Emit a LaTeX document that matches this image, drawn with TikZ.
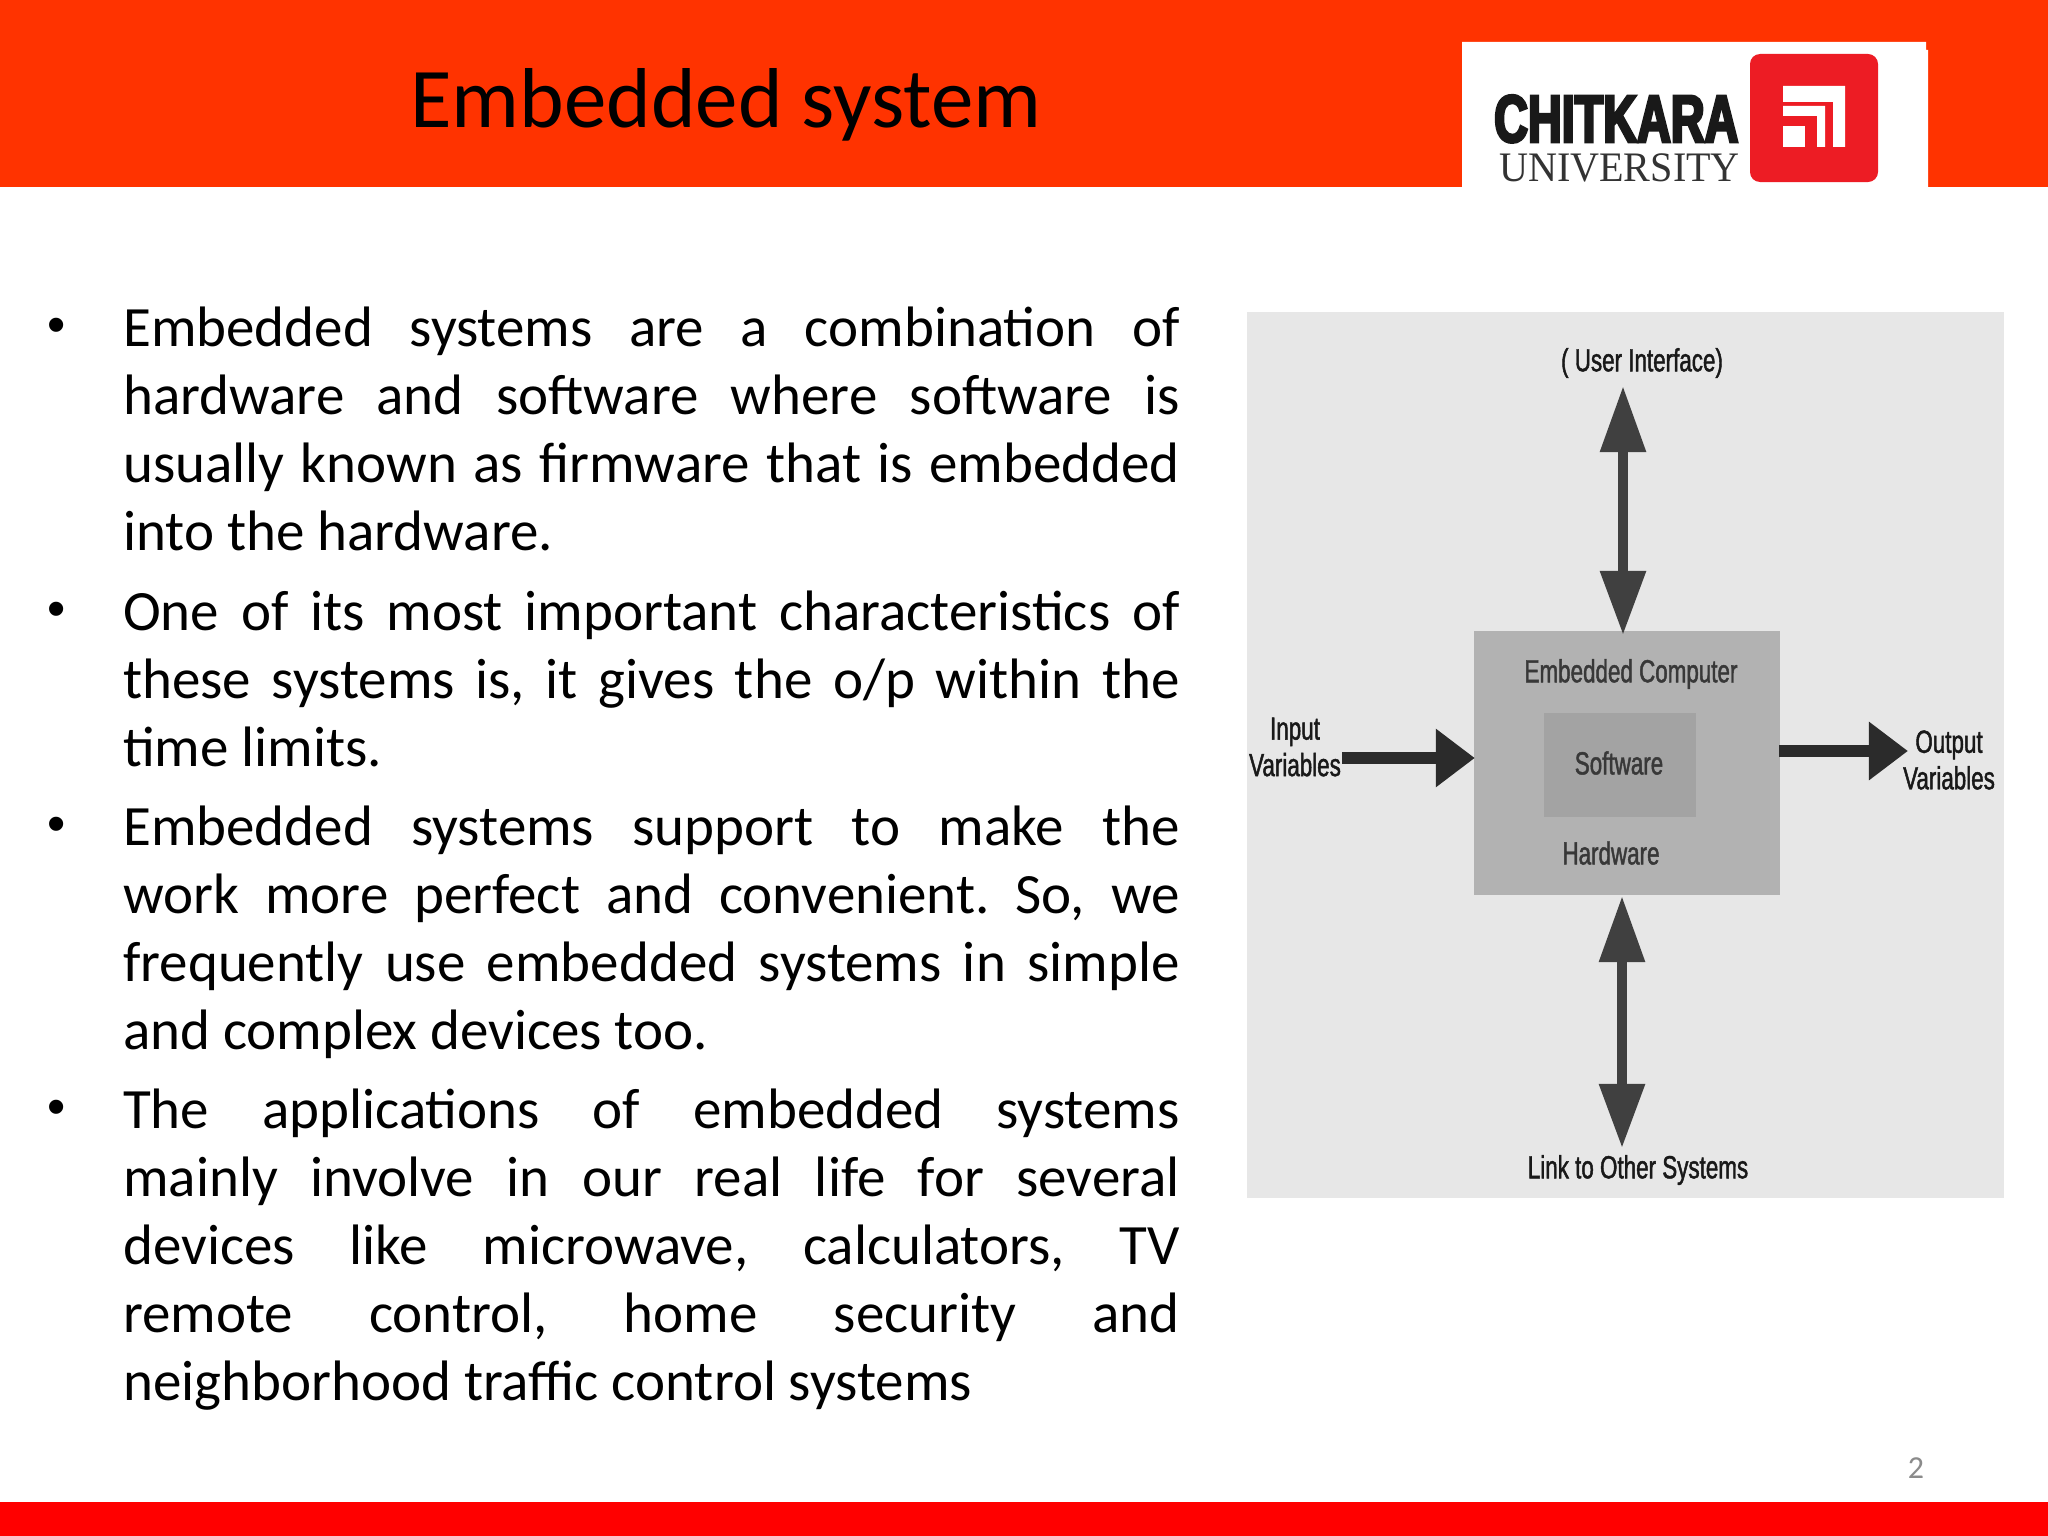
\documentclass[tikz,border=0pt]{standalone}
\usepackage{fontspec}
\usetikzlibrary{arrows.meta}
\setmainfont{Carlito}
\newfontfamily\bulletfont{Liberation Sans}
\newfontfamily\condfont[FakeStretch=0.70,FakeBold=1.4]{Liberation Sans}
\newfontfamily\chitfont[FakeStretch=0.698,FakeBold=4]{Liberation Sans Bold}
\newfontfamily\univfont[FakeStretch=0.955]{Liberation Serif}
\definecolor{headorange}{HTML}{FF3300}
\definecolor{footred}{HTML}{FF0000}
\definecolor{logored}{HTML}{ED1C24}
\definecolor{panelgray}{HTML}{E7E7E7}
\definecolor{outergray}{HTML}{B2B2B2}
\definecolor{innergray}{HTML}{A3A3A3}
\definecolor{shaftdark}{HTML}{404040}
\definecolor{flowdark}{HTML}{2B2B2B}
\definecolor{pagegray}{HTML}{8B8B8B}
\tikzset{
  bodypara/.style={anchor=base west,inner sep=0pt,font=\fontsize{57}{68.1}\selectfont},
  bulletmark/.style={anchor=base west,inner sep=0pt,font=\bulletfont\fontsize{52}{68}\selectfont},
  difflabel/.style={inner sep=0pt,minimum height=40pt,text=black!90,font=\condfont\fontsize{32}{36.5}\selectfont,align=center},
  boxlabel/.style={inner sep=0pt,text=black!78,font=\condfont\fontsize{32}{36}\selectfont},
  bidir/.style={shaftdark,line width=9.5pt,{Triangle[length=66pt,width=44pt]}-{Triangle[length=64pt,width=44pt]}},
  flowarrow/.style={flowdark,line width=12.5pt,-{Triangle[length=39pt,width=56pt]}}
}
\newcommand{\paratext}[1]{\parbox[t]{1056.5pt}{\fontsize{57}{68.1}\selectfont\frenchspacing\hyphenpenalty=10000 \emergencystretch=200pt #1}}
\begin{document}
\begin{tikzpicture}[x=1pt,y=-1pt]
\useasboundingbox (0,0) rectangle (2048,1536);
\fill[white] (0,0) rectangle (2048,1536);
% bands
\fill[headorange] (0,0) rectangle (2048,187);
\fill[footred] (0,1502) rectangle (2048,1536);
% logo
\fill[white] (1462,42) -- (1926,42) -- (1926,50) -- (1928,50) -- (1928,188) -- (1462,188) -- cycle;
\fill[logored,rounded corners=10pt] (1750,54) rectangle (1878,182);
\fill[white] (1783,86) -- (1845,86) -- (1845,147) -- (1833,147) -- (1833,102) -- (1783,102) -- cycle;
\fill[white] (1783,106) -- (1825,106) -- (1825,147) -- (1817,147) -- (1817,116) -- (1783,116) -- cycle;
\fill[white] (1783,126) rectangle (1805,147);
\node[anchor=base west,inner sep=0pt,text=black!90,font=\chitfont\fontsize{67}{67}\selectfont] (chit) at (1494,142) {CHITKARA};
\node[anchor=base west,inner sep=0pt,text=black!80,font=\univfont\fontsize{42}{42}\selectfont] (univ) at (1499,182) {UNIVERSITY};
% title
\node[anchor=base west,inner sep=0pt,font=\fontsize{85}{95}\selectfont] (title) at (410,128) {Embedded system};
% body
\node[bulletmark] (b1) at (47,342) {•};
\node[bodypara] (p1) at (123,346) {\paratext{Embedded systems are a combination of\linebreak hardware and software where software is\linebreak usually known as firmware that is embedded\linebreak into the hardware.}};
\node[bulletmark] (b2) at (47,626) {•};
\node[bodypara] (p2) at (123,630) {\paratext{One of its most important characteristics of\linebreak these systems is, it gives the o/p within the\linebreak time limits.}};
\node[bulletmark] (b3) at (47,841) {•};
\node[bodypara] (p3) at (123,845) {\paratext{Embedded systems support to make the\linebreak work more perfect and convenient. So, we\linebreak frequently use embedded systems in simple\linebreak and complex devices too.}};
\node[bulletmark] (b4) at (47,1124) {•};
\node[bodypara] (p4) at (123,1128) {\paratext{The applications of embedded systems\linebreak mainly involve in our real life for several\linebreak devices like microwave, calculators, TV\linebreak remote control, home security and\linebreak neighborhood traffic control systems}};
% page number
\node[inner sep=0pt,text=pagegray,font=\fontsize{32}{36}\selectfont] (pg) at (1916,1468) {2};
% diagram
\fill[panelgray] (1247,312) rectangle (2004,1198);
\node[fill=outergray,inner sep=0pt,minimum width=306pt,minimum height=264pt] (outer) at (1627,763) {};
\node[fill=innergray,inner sep=0pt,minimum width=152pt,minimum height=104pt] (inner) at (1620,765) {};
\node[boxlabel] (ec) at (1631,674) {Embedded Computer};
\node[boxlabel] (sw) at (1619,763) {Software};
\node[boxlabel] (hw) at (1611,853) {Hardware};
\node[difflabel] (ui) at (1642,363) {( User Interface)};
\node[difflabel] (link) at (1638,1170) {Link to Other Systems};
\node[difflabel] (inp) at (1295,747) {Input\\Variables};
\node[difflabel] (outp) at (1949,760) {Output\\Variables};
\draw[bidir] ([xshift=-19pt,yshift=-3pt]ui.south) -- ([xshift=-4pt,yshift=-4pt]outer.north);
\draw[bidir] ([xshift=-5pt,yshift=-1pt]outer.south) -- ([xshift=-16pt,yshift=2pt]link.north);
\draw[flowarrow] ([yshift=-11pt,xshift=1pt]inp.east) -- ([yshift=5pt,xshift=1pt]outer.west);
\draw[flowarrow] ([yshift=12pt,xshift=-1pt]outer.east) -- ([yshift=9pt,xshift=5pt]outp.west);
\end{tikzpicture}
\end{document}
